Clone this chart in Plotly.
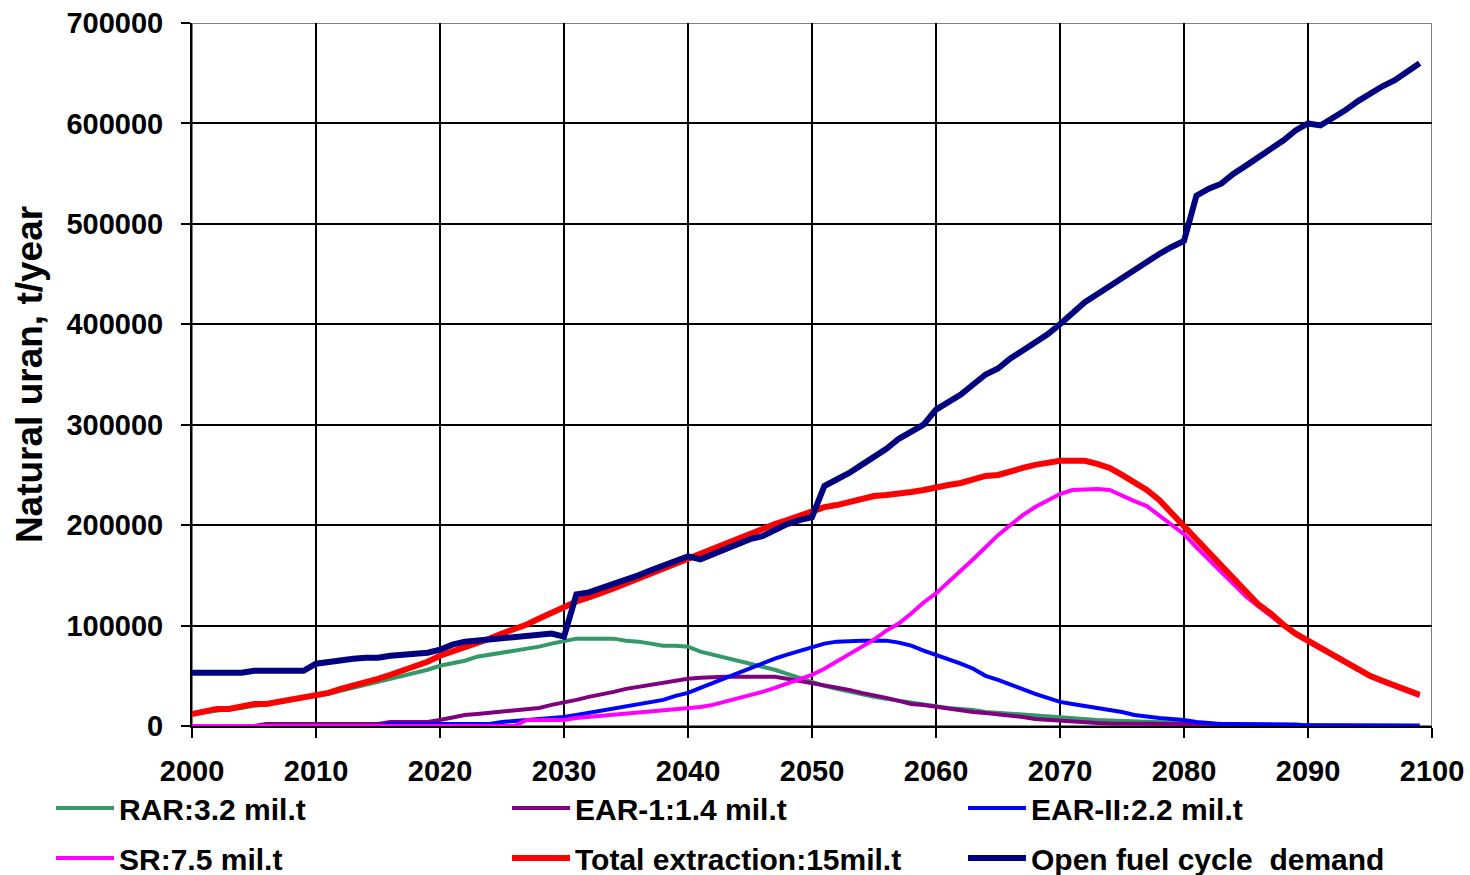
import plotly.graph_objects as go

years = list(range(2000, 2100))

rar = [12000, 14000, 16000, 17000, 18000, 20000, 21000, 23000, 25000, 28000,
       30000, 32000, 35000, 38000, 41000, 44000, 46000, 49000, 52000, 56000,
       60000, 62000, 65000, 69000, 71000, 73000, 75000, 77000, 79000, 82000,
       85000, 87000, 87000, 87000, 87000, 85000, 84000, 82000, 80000, 80000,
       79000, 74000, 71000, 69000, 66000, 62000, 59000, 56000, 52000, 48000,
       43000, 40000, 37000, 34000, 31000, 29000, 27000, 25000, 23000, 21000,
       19000, 18000, 17000, 16000, 14000, 13000, 12000, 11000, 10000, 9000,
       8000, 7500, 7000, 6000, 5500, 5000, 4500, 4000, 3500, 3000,
       2500, 2000, 2000, 1500, 1500, 1000, 1000, 1000, 500, 500,
       500, 500, 0, 0, 0, 0, 0, 0, 0, 0]

ear1 = [0, 0, 0, 0, 0, 0, 2000, 2000, 2000, 2000,
        2000, 2000, 2000, 2000, 2000, 2000, 4000, 4000, 4000, 4000,
        6000, 9000, 11000, 12000, 13000, 14000, 15000, 16000, 18000, 21000,
        23000, 26000, 29000, 31000, 34000, 37000, 39000, 41000, 44000, 46000,
        47000, 48000, 49000, 49000, 49000, 49000, 49000, 49000, 47000, 45000,
        43000, 41000, 38000, 36000, 33000, 31000, 28000, 25000, 22000, 21000,
        19000, 17000, 15000, 14000, 13000, 12000, 11000, 9000, 7000, 6000,
        5000, 5000, 4000, 3000, 2500, 2500, 2000, 2000, 2000, 2000,
        2000, 1000, 1000, 1000, 1000, 1000, 1000, 500, 500, 500,
        500, 0, 0, 0, 0, 0, 0, 0, 0, 0]

ear2 = [0, 0, 0, 0, 0, 0, 0, 0, 0, 0,
        0, 0, 0, 0, 0, 0, 2000, 2000, 2000, 2000,
        2000, 2000, 2000, 2000, 2000, 4000, 5000, 6000, 7000, 8000,
        9000, 11000, 13000, 15000, 17000, 20000, 22000, 24000, 26000, 30000,
        33000, 38000, 43000, 48000, 53000, 58000, 63000, 67000, 71000, 75000,
        79000, 82000, 84000, 85000, 85000, 85000, 85000, 83000, 80000, 75000,
        71000, 67000, 62000, 57000, 50000, 46000, 41000, 36000, 32000, 28000,
        24000, 22000, 20000, 18000, 16000, 14000, 11000, 9000, 8000, 7000,
        6000, 4000, 3000, 2000, 2000, 2000, 2000, 2000, 1500, 1500,
        500, 500, 500, 500, 500, 500, 500, 500, 500, 500]

sr = [0, 0, 0, 0, 0, 0, 0, 0, 0, 0,
      0, 0, 0, 0, 0, 0, 0, 0, 0, 0,
      0, 0, 0, 0, 0, 0, 0, 6000, 6000, 6000,
      6000, 8000, 9000, 10000, 11000, 12000, 13000, 14000, 16000, 17000,
      18000, 19000, 21000, 24000, 28000, 30000, 34000, 38000, 42000, 47000,
      51000, 57000, 64000, 71000, 79000, 86000, 95000, 102000, 112000, 123000,
      132000, 143000, 154000, 166000, 178000, 190000, 200000, 210000, 218000, 225000,
      231000, 235000, 236000, 236000, 235000, 229000, 224000, 219000, 210000, 201000,
      191000, 178000, 166000, 154000, 142000, 129000, 119000, 110000, 100000, 91000,
      84000, 77000, 69000, 62000, 56000, 49000, 44000, 39000, 34000, 30000]

total = [12000, 15000, 17000, 17000, 19000, 22000, 22000, 24000, 26000, 28000,
         31000, 33000, 37000, 40000, 43000, 47000, 51000, 55000, 59000, 64000,
         70000, 74000, 78000, 83000, 87000, 92000, 96000, 101000, 107000, 113000,
         119000, 124000, 128000, 132000, 137000, 142000, 147000, 152000, 157000, 162000,
         167000, 172000, 177000, 182000, 187000, 192000, 196000, 201000, 205000, 209000,
         213000, 218000, 220000, 223000, 227000, 229000, 230000, 231000, 233000, 235000,
         238000, 240000, 242000, 246000, 249000, 250000, 254000, 257000, 260000, 262000,
         264000, 264000, 264000, 261000, 257000, 250000, 242000, 235000, 225000, 212000,
         199000, 186000, 172000, 158000, 146000, 134000, 121000, 112000, 101000, 92000,
         85000, 78000, 70000, 63000, 57000, 50000, 45000, 40000, 35000, 31000]

demand = [53000, 53000, 53000, 53000, 53000, 55000, 55000, 55000, 55000, 55000,
          62000, 64000, 65000, 67000, 68000, 68000, 70000, 71000, 72000, 73000,
          76000, 81000, 84000, 85000, 86000, 87000, 89000, 90000, 91000, 92000,
          89000, 131000, 133000, 137000, 141000, 146000, 150000, 155000, 160000, 165000,
          169000, 166000, 171000, 175000, 181000, 186000, 189000, 195000, 201000, 205000,
          208000, 239000, 245000, 252000, 260000, 268000, 276000, 286000, 293000, 300000,
          315000, 322000, 330000, 340000, 350000, 356000, 366000, 374000, 382000, 390000,
          400000, 412000, 422000, 430000, 438000, 446000, 455000, 462000, 470000, 477000,
          483000, 528000, 535000, 540000, 550000, 558000, 566000, 575000, 583000, 593000,
          600000, 598000, 605000, 613000, 622000, 630000, 637000, 643000, 652000, 660000]

series = [
    ("RAR:3.2 mil.t", rar, "#339966", 4, "legend"),
    ("EAR-1:1.4 mil.t", ear1, "#800080", 4, "legend"),
    ("EAR-II:2.2 mil.t", ear2, "#0000FF", 4, "legend"),
    ("SR:7.5 mil.t", sr, "#FF00FF", 4, "legend2"),
    ("Total extraction:15mil.t", total, "#FF0000", 6, "legend2"),
    ("Open fuel cycle  demand", demand, "#000080", 6, "legend2"),
]

FONT = "Liberation Sans, Arial, sans-serif"

fig = go.Figure()
for name, vals, color, w, lg in series:
    fig.add_trace(go.Scatter(x=years, y=vals, mode="lines", name=name,
                             legend=lg, line=dict(color=color, width=w)))

fig.add_shape(type="rect", xref="x", yref="y", x0=2000, x1=2100, y0=0, y1=700000,
              line=dict(color="#808080", width=2), layer="below")

legend_common = dict(orientation="h", x=-0.1137, xanchor="left", yanchor="middle",
                     entrywidth=383, entrywidthmode="pixels", itemwidth=58,
                     font=dict(family=FONT, size=30, color="black", weight="bold"),
                     bgcolor="rgba(0,0,0,0)", traceorder="normal")

fig.update_layout(
    width=1470, height=875,
    margin=dict(l=192, r=38, t=23, b=149, autoexpand=False),
    paper_bgcolor="white", plot_bgcolor="white",
    font=dict(family=FONT, size=29, color="black", weight="bold"),
    legend=dict(y=-0.1166, **legend_common),
    legend2=dict(y=-0.1878, **legend_common),
    showlegend=True,
)
fig.update_xaxes(range=[2000, 2100], dtick=10, tick0=2000, showgrid=True,
                 gridcolor="black", gridwidth=2, showline=True, linecolor="black",
                 linewidth=2, ticks="outside", ticklen=10, tickwidth=2,
                 tickcolor="black", zeroline=False, ticklabelstandoff=8,
                 automargin=False, ticklabeloverflow="allow",
                 tickfont=dict(family=FONT, size=29, weight="bold"))
fig.update_yaxes(range=[0, 700000], dtick=100000, showgrid=True,
                 gridcolor="black", gridwidth=2, showline=True, linecolor="black",
                 linewidth=2, ticks="outside", ticklen=9, tickwidth=2,
                 tickcolor="black", zeroline=False, tickformat="d",
                 ticklabelstandoff=12, automargin=False, ticklabeloverflow="allow",
                 tickfont=dict(family=FONT, size=29, weight="bold"),
                 title=dict(text="Natural uran, t/year", standoff=12,
                            font=dict(family=FONT, size=37, weight="bold")))

fig.write_html("out.html", config={"displayModeBar": False},
               post_script="document.body.style.margin='0';document.body.style.overflow='hidden';")
